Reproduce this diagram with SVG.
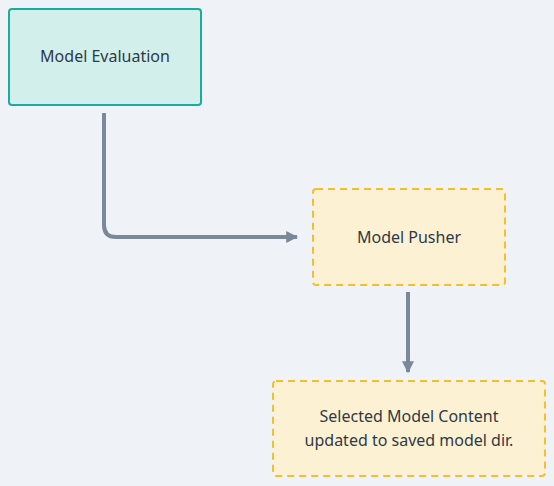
<svg xmlns="http://www.w3.org/2000/svg" width="554" height="486" viewBox="0 0 554 486">
<style>
.t{font-family:"Noto Sans","Liberation Sans",sans-serif;font-size:16px;fill:#2e3a47;text-anchor:middle}
.c{fill:none;stroke:#7a8899;stroke-width:4}
.y{fill:#fdf1d3;stroke:#f5bf2a;stroke-width:2;stroke-dasharray:7 5}
</style>
<defs>
<marker id="a" viewBox="0 0 10 10" refX="9" refY="5" markerWidth="3" markerHeight="3" orient="auto" markerUnits="strokeWidth">
<path d="M0,0 L10,5 L0,10 z" fill="#7a8899"/>
</marker>
</defs>
<rect width="554" height="486" fill="#eff3f7"/>
<g id="connectors">
<path class="c" d="M104,113 V225 Q104,237 116,237 H297" marker-end="url(#a)"/>
<path class="c" d="M408,292 V372" marker-end="url(#a)"/>
</g>
<g id="n1">
<rect x="9" y="9" width="192" height="96" rx="3" fill="#d2efec" stroke="#18ae9c" stroke-width="2"/>
<text class="t" x="105" y="62">Model Evaluation</text>
</g>
<g id="n2">
<rect class="y" x="313" y="189" width="192" height="96" rx="3"/>
<text class="t" x="409" y="243">Model Pusher</text>
</g>
<g id="n3">
<rect class="y" x="273" y="381" width="272" height="95" rx="3"/>
<text class="t" x="409" y="422">Selected Model Content</text>
<text class="t" x="409" y="446">updated to saved model dir.</text>
</g>
</svg>
